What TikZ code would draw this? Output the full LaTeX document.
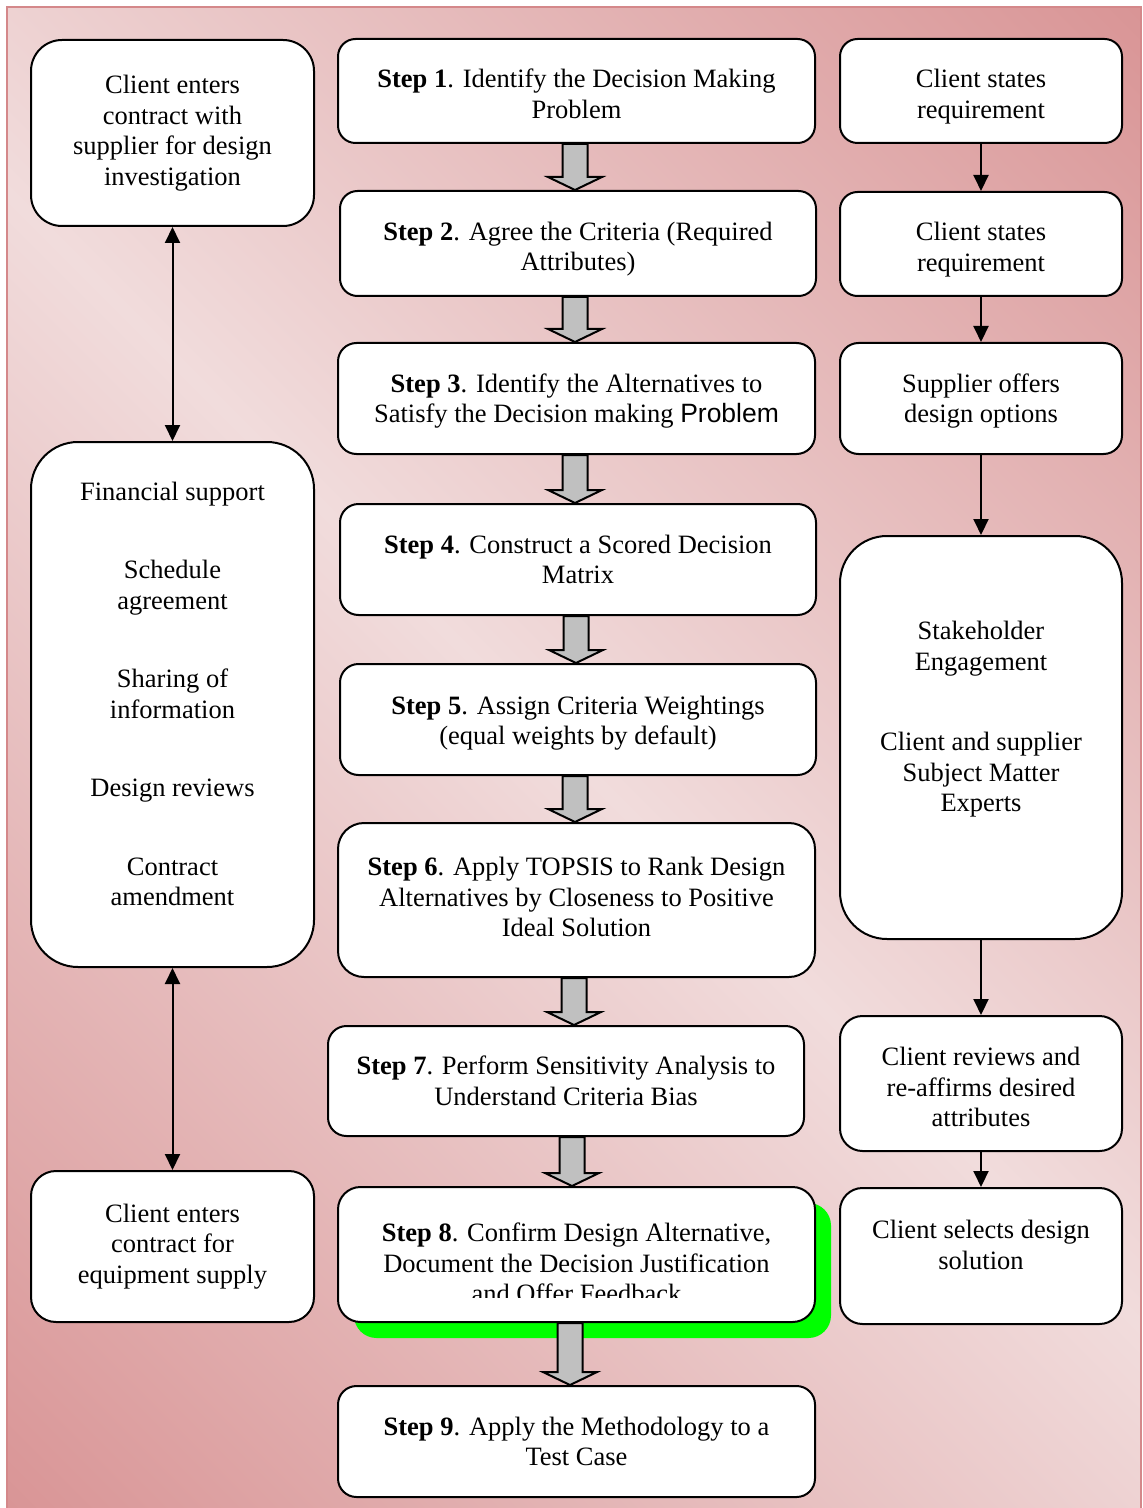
\documentclass[tikz,border=0pt]{standalone}
\usepackage{fontspec}
\setmainfont{Liberation Serif}
\newfontfamily\arialfont{Liberation Sans}
\usetikzlibrary{arrows.meta,calc,shadows}

\definecolor{rosedark}{RGB}{217,149,150}
\definecolor{roselight}{RGB}{241,220,220}
\definecolor{roseedge}{RGB}{212,136,138}
\definecolor{arrowgray}{RGB}{192,192,192}
\definecolor{shadowgreen}{RGB}{0,255,0}

% diagonal wash: light along one diagonal, darker towards the other two corners
\pgfdeclareverticalshading{rosewash}{100bp}{color(0bp)=(rosedark); color(14.6bp)=(rosedark); color(50bp)=(roselight); color(85.4bp)=(rosedark); color(100bp)=(rosedark)}

% invisible struts that deepen the last line / heighten the first line of a node
\newcommand\padbelow[1]{\rule[-#1]{0pt}{#1}}
\newcommand\padabove[1]{\rule{0pt}{#1}}

% wide grey block arrow between two step boxes, at abscissa #3
\newcommand\blockarrow[3]{%
  \draw[blockarrow] let \p1=(#1.south), \p2=(#2.north), \p3=(#3,0) in
    (\x3-6.25pt,\y1) -- (\x3-6.25pt,\y2+6.5pt) -- (\x3-13.5pt,\y2+6.5pt) -- (\x3,\y2)
    -- (\x3+13.5pt,\y2+6.5pt) -- (\x3+6.25pt,\y2+6.5pt) -- (\x3+6.25pt,\y1) -- cycle;}

\begin{document}
\begin{tikzpicture}[x=0.5pt, y=-0.5pt,
  font=\fontsize{13.25}{15.25}\selectfont,
  box/.style={draw=black, line width=1pt, fill=white, align=center, inner sep=0pt},
  boxsize/.style 2 args={minimum width=#1*0.5pt, minimum height=#2*0.5pt},
  textonly/.style={align=center, inner sep=0pt},
  flow/.style={line width=1pt, -{Triangle[width=7.5pt,length=8pt]}},
  twoway/.style={line width=1pt, {Triangle[width=7.5pt,length=8pt]}-{Triangle[width=7.5pt,length=8pt]}},
  blockarrow/.style={draw=black, line width=1pt, fill=arrowgray, line join=miter},
  greenshadow/.style={drop shadow={fill=shadowgreen, opacity=1, shadow xshift=8pt, shadow yshift=-8pt}},
]
\useasboundingbox (0,0) rectangle (1143,1508);
\fill[white] (0,0) rectangle (1143,1508);

% backdrop
\shade[shading=rosewash, shading angle=-45] (7,7) rectangle (1141,1512);
\draw[roseedge, line width=1pt] (7,1512) -- (7,7) -- (1141,7) -- (1141,1512);

% left column
\node[box, boxsize={283}{186}, rounded corners=15.5pt] (l1) at (172.5,133)
  {Client enters\\contract with\\supplier for design\\investigation};
\node[box, boxsize={283}{525}, rounded corners=23.5pt] (l2) at (172.5,704.5)
  {Financial support\\[24pt]Schedule\\agreement\\[24pt]Sharing of\\information\\[24pt]Design reviews\\[24pt]Contract\\amendment\padbelow{10.5pt}};
\node[box, boxsize={283}{151}, rounded corners=12.5pt] (l3) at (172.5,1246.5)
  {Client enters\\contract for\\equipment supply};

% middle column: the nine steps
\node[box, boxsize={477}{104}, rounded corners=8.75pt] (s1) at (576.5,91)
  {\padabove{12pt}\textbf{Step 1}. Identify the Decision Making\\Problem};
\node[box, boxsize={476}{105}, rounded corners=8.75pt] (s2) at (578,243.5)
  {\padabove{15pt}\textbf{Step 2}. Agree the Criteria (Required\\Attributes)};
\node[box, boxsize={477}{111}, rounded corners=9.25pt] (s3) at (576.5,398.5)
  {\padabove{12pt}\textbf{Step 3}. Identify the Alternatives to\\Satisfy the Decision making {\arialfont Problem}};
\node[box, boxsize={476}{111}, rounded corners=9.25pt] (s4) at (578,559.5)
  {\textbf{Step 4}. Construct a Scored Decision\\Matrix};
\node[box, boxsize={476}{111}, rounded corners=9.25pt] (s5) at (578,719.5)
  {\padabove{13pt}\textbf{Step 5}. Assign Criteria Weightings\\(equal weights by default)};
\node[box, boxsize={477}{154}, rounded corners=13pt] (s6) at (576.5,900)
  {\textbf{Step 6}. Apply TOPSIS to Rank Design\\Alternatives by Closeness to Positive\\Ideal Solution\padbelow{3pt}};
\node[box, boxsize={476}{110}, rounded corners=9.25pt] (s7) at (566,1081)
  {\textbf{Step 7}. Perform Sensitivity Analysis to\\Understand Criteria Bias};
\node[box, greenshadow, boxsize={477}{135}, rounded corners=11.25pt] (s8) at (576.5,1254.5) {};
\begin{scope}
  \clip (338,1190) rectangle (815,1297);
  \node[textonly] (s8text) at (576.5,1263)
    {\textbf{Step 8}. Confirm Design Alternative,\\Document the Decision Justification\\and Offer Feedback};
\end{scope}
\node[box, boxsize={477}{111}, rounded corners=9.25pt] (s9) at (576.5,1441.5)
  {\textbf{Step 9}. Apply the Methodology to a\\Test Case};

% right column
\node[box, boxsize={282}{104}, rounded corners=8.75pt] (r1) at (981,91)
  {\padabove{15pt}Client states\\requirement};
\node[box, boxsize={282}{104}, rounded corners=8.75pt] (r2) at (981,244)
  {\padabove{15pt}Client states\\requirement};
\node[box, boxsize={282}{111}, rounded corners=9.25pt] (r3) at (981,398.5)
  {\padabove{12pt}Supplier offers\\design options};
\node[box, boxsize={282}{403}, rounded corners=23.5pt] (r4) at (981,737.5)
  {Stakeholder\\Engagement\\[25pt]Client and supplier\\Subject Matter\\Experts\padbelow{21pt}};
\node[box, boxsize={282}{135}, rounded corners=11.25pt] (r5) at (981,1083.5)
  {\padabove{13pt}Client reviews and\\re-affirms desired\\attributes};
\node[box, boxsize={282}{136}, rounded corners=11.25pt] (r6) at (981,1256)
  {Client selects design\\solution\padbelow{11pt}};

% grey block arrows between the steps
\blockarrow{s1}{s2}{575}
\blockarrow{s2}{s3}{575}
\blockarrow{s3}{s4}{575}
\blockarrow{s4}{s5}{576}
\blockarrow{s5}{s6}{575}
\blockarrow{s6}{s7}{574}
\blockarrow{s7}{s8}{572}
\blockarrow{s8}{s9}{570}

% right column flow
\draw[flow] (r1.south) -- (r2.north);
\draw[flow] (r2.south) -- (r3.north);
\draw[flow] (r3.south) -- (r4.north);
\draw[flow] (r4.south) -- (r5.north);
\draw[flow] (r5.south) -- (r6.north);

% left column links
\draw[twoway] (l1.south) -- (l2.north);
\draw[twoway] (l2.south) -- (l3.north);
\end{tikzpicture}
\end{document}
